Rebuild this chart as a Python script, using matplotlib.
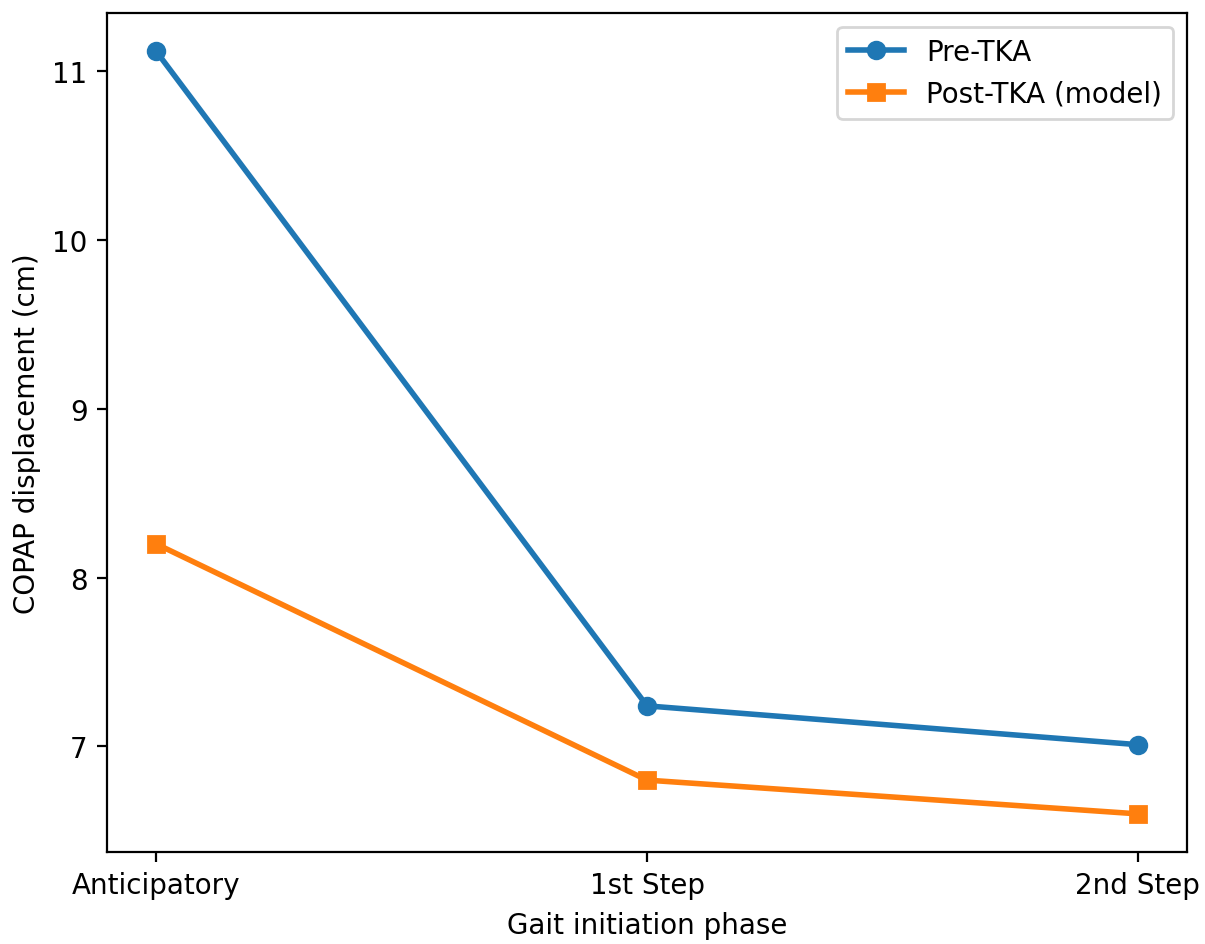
import matplotlib
matplotlib.use("Agg")
import matplotlib.pyplot as plt

phases = ["Anticipatory", "1st Step", "2nd Step"]
pre_tka = [11.12, 7.24, 7.01]
post_tka = [8.20, 6.80, 6.60]

W, H, DPI = 1205, 945, 200
fig = plt.figure(figsize=(W / DPI, H / DPI), dpi=DPI)
ax = fig.add_axes([107 / W, 1 - 853 / H, (1187 - 107) / W, (853 - 14) / H])

x = range(len(phases))
ax.plot(x, pre_tka, marker="o", linewidth=2, label="Pre-TKA")
ax.plot(x, post_tka, marker="s", linewidth=2, label="Post-TKA (model)")
ax.set_xticks(list(x))
ax.set_xticklabels(phases)
ax.set_xlabel("Gait initiation phase")
ax.set_ylabel("COPAP displacement (cm)")
ax.legend(loc="upper right")

fig.savefig("out.png", dpi=DPI)
